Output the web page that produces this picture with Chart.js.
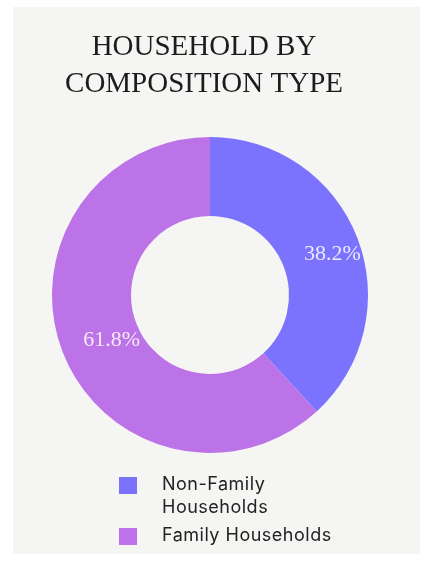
<!DOCTYPE html>
<html>
<head>
<meta charset="utf-8">
<script src="https://cdn.jsdelivr.net/npm/chart.js@4.4.1/dist/chart.umd.min.js"></script>
<style>
  html, body { margin: 0; padding: 0; background: #ffffff; }
  #panel {
    position: absolute; left: 13px; top: 7px;
    width: 407px; height: 547px; background: #f5f5f3;
  }
  canvas { display: block; }
</style>
</head>
<body>
<div id="panel"><canvas id="chart" width="407" height="547"></canvas></div>
<script>
// --- Data ---
const titleLines = ['HOUSEHOLD BY', 'COMPOSITION TYPE'];
const categories = [['Non-Family', 'Households'], ['Family Households']];
const shares = [38.2, 61.8];
const colors = ['#7b73fd', '#bd73e8'];

// --- Title + legend + slice labels drawn on the canvas ---
const decorPlugin = {
    id: 'decor',
    afterDatasetsDraw(chart) {
        const ctx = chart.ctx;
        const meta = chart.getDatasetMeta(0);
        ctx.save();
        ctx.font = '22px "Liberation Serif", serif';
        ctx.fillStyle = 'rgba(255,255,255,0.85)';
        ctx.textAlign = 'center';
        ctx.textBaseline = 'middle';
        meta.data.forEach((arc, i) => {
            const p = arc.tooltipPosition();
            ctx.fillText(shares[i].toFixed(1) + '%', p.x + 12, p.y + 2);
        });
        ctx.restore();
    },
    afterDraw(chart) {
        const ctx = chart.ctx;
        ctx.save();
        // title
        ctx.font = '29px "Liberation Serif", serif';
        ctx.fillStyle = '#1c1c1c';
        ctx.textAlign = 'center';
        ctx.textBaseline = 'alphabetic';
        titleLines.forEach((t, i) => ctx.fillText(t, 191, 48 + i * 37));

        // legend
        ctx.font = '18px Inter, sans-serif';
        ctx.letterSpacing = '0.5px';
        ctx.textAlign = 'left';
        let y = 470;
        categories.forEach((lines, i) => {
            ctx.fillStyle = colors[i];
            ctx.fillRect(106, y, 18, 17);
            ctx.fillStyle = '#222222';
            lines.forEach((l, j) => ctx.fillText(l, 149, y + 13 + j * 23));
            y += 51;
        });
        ctx.restore();
    }
};

new Chart(document.getElementById('chart').getContext('2d'), {
    type: 'doughnut',
    data: {
        labels: categories.map(c => c.join(' ')),
        datasets: [{
            data: shares,
            backgroundColor: colors,
            borderWidth: 0,
            hoverOffset: 0
        }]
    },
    options: {
        responsive: false,
        animation: false,
        cutout: '50%',
        layout: { padding: { top: 130, bottom: 101, left: 0, right: 13 } },
        plugins: {
            legend: { display: false },
            title: { display: false },
            tooltip: { enabled: false }
        }
    },
    plugins: [decorPlugin]
});
</script>
</body>
</html>
